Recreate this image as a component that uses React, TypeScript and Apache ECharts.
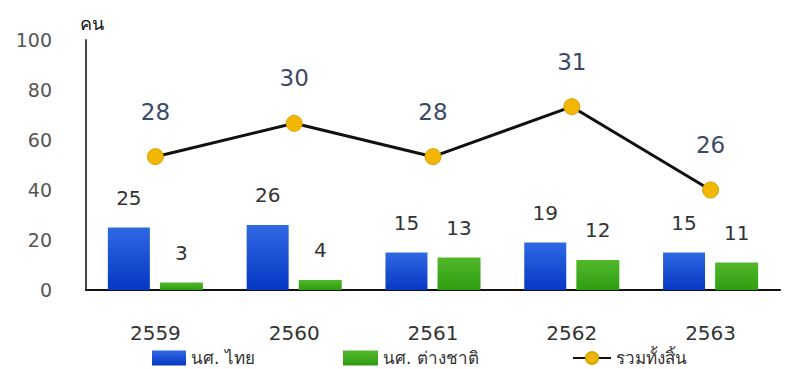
import React, { useEffect, useRef } from "react";
import * as echarts from "echarts";

const years = ["2559", "2560", "2561", "2562", "2563"];
const thaiStudents = [25, 26, 15, 19, 15];
const foreignStudents = [3, 4, 13, 12, 11];
const totals = [28, 30, 28, 31, 26];
const seriesNames = ["นศ. ไทย", "นศ. ต่างชาติ", "รวมทั้งสิ้น"];
const yTicks = { min: 0, max: 100, interval: 20 };
const unitLabel = "คน";

const FONT = "DejaVu Sans, Tahoma, sans-serif";

export default function App() {
  const ref = useRef<HTMLDivElement>(null);
  useEffect(() => {
    if (!ref.current) return;
    const chart = echarts.init(ref.current, null, { renderer: "svg" });
    const legendText = { fontSize: 17, color: "#333", fontFamily: FONT, lineHeight: 18 };
    chart.setOption({
      animation: false,
      textStyle: { fontFamily: FONT },
      grid: { left: 86, right: 5, top: 40, bottom: 79 },
      legend: [
        {
          data: [seriesNames[0]], left: 152, top: 349, itemWidth: 34, itemHeight: 15,
          icon: "rect", textStyle: legendText, padding: 0,
        },
        {
          data: [seriesNames[1]], left: 343, top: 349, itemWidth: 35, itemHeight: 15,
          icon: "rect", textStyle: legendText, padding: 0,
        },
        {
          data: [seriesNames[2]], left: 572, top: 349, itemWidth: 38, itemHeight: 15,
          textStyle: legendText, padding: 0,
        },
      ],
      graphic: [
        {
          type: "text", left: 80, top: 14,
          style: { text: unitLabel, fontSize: 18, fill: "#111", fontFamily: FONT },
        },
      ],
      xAxis: {
        type: "category",
        data: years,
        axisLine: { lineStyle: { color: "#111", width: 2 } },
        axisTick: { show: false },
        axisLabel: { color: "#333", fontSize: 20, margin: 33, fontFamily: FONT },
      },
      yAxis: [
        {
          type: "value",
          min: yTicks.min, max: yTicks.max, interval: yTicks.interval,
          axisLine: { show: true, lineStyle: { color: "#444", width: 2 } },
          axisTick: { show: false },
          splitLine: { show: false },
          axisLabel: { color: "#555", fontSize: 19, margin: 34, fontFamily: FONT },
        },
        { type: "value", min: 20, max: 35, show: false },
      ],
      series: [
        {
          name: seriesNames[0], type: "bar", data: thaiStudents, barWidth: 42, barGap: "24%",
          itemStyle: {
            color: new echarts.graphic.LinearGradient(0, 0, 0, 1, [
              { offset: 0, color: "#2f68e3" },
              { offset: 1, color: "#0638c4" },
            ]),
          },
          label: { show: true, position: "top", distance: 20, fontSize: 20, color: "#333", fontFamily: FONT },
        },
        {
          name: seriesNames[1], type: "bar", data: foreignStudents, barWidth: 43,
          itemStyle: {
            color: new echarts.graphic.LinearGradient(0, 0, 0, 1, [
              { offset: 0, color: "#52b82a" },
              { offset: 1, color: "#2f9d12" },
            ]),
          },
          label: { show: true, position: "top", distance: 20, fontSize: 20, color: "#333", fontFamily: FONT },
        },
        {
          name: seriesNames[2], type: "line", yAxisIndex: 1, data: totals,
          symbol: "circle", symbolSize: 16,
          lineStyle: { color: "#111", width: 3 },
          itemStyle: { color: "#f2b705", borderColor: "#d9a300", borderWidth: 1 },
          label: { show: true, position: "top", distance: 25, fontSize: 23, color: "#3b4a68", fontFamily: FONT },
          z: 5,
        },
      ],
    });
    return () => chart.dispose();
  }, []);
  return <div ref={ref} style={{ width: 785, height: 369, position: "absolute", left: 0, top: 0 }} />;
}
